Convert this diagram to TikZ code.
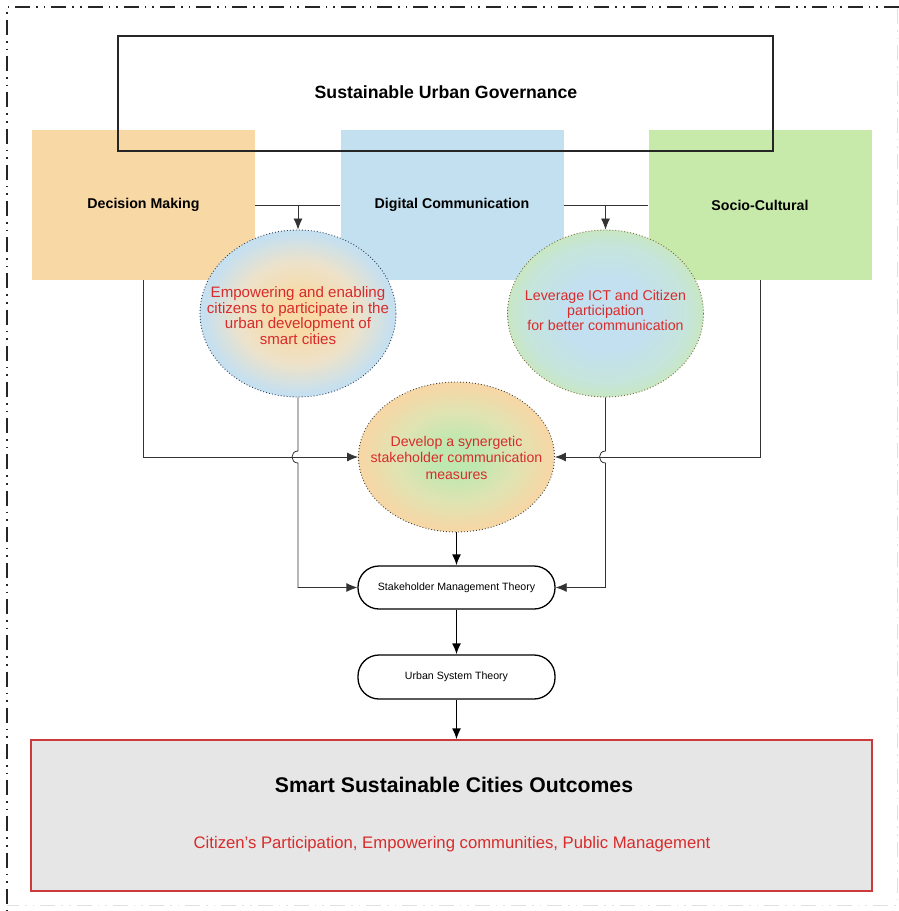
\documentclass[tikz,border=0pt]{standalone}
\usepackage{fontspec}
\setmainfont{Liberation Sans}
\usetikzlibrary{arrows.meta,shapes.geometric,calc}
\definecolor{orng}{HTML}{F8D8A5}
\definecolor{blu}{HTML}{C3E0F0}
\definecolor{grn}{HTML}{C7E9AA}
\definecolor{redtxt}{HTML}{D92B2B}
\definecolor{outgray}{HTML}{E6E6E6}
\definecolor{outred}{HTML}{CC3B3B}
\definecolor{dotnavy}{HTML}{2E3F5C}
\definecolor{dotbrown}{HTML}{7A6A3A}
\definecolor{eAin}{HTML}{F7DAA6}
\definecolor{eAmid}{HTML}{EDE2CA}
\definecolor{eAout}{HTML}{C6E0EF}
\definecolor{eBin}{HTML}{C2E0F0}
\definecolor{eBmid}{HTML}{C6E5DA}
\definecolor{eBout}{HTML}{C8E9AC}
\definecolor{eCin}{HTML}{BFE8B0}
\definecolor{eCmid}{HTML}{E0E3B2}
\definecolor{eCout}{HTML}{F6D7A6}
\pgfdeclareradialshading{shA}{\pgfpoint{0bp}{0bp}}{color(0bp)=(eAin); color(5.6bp)=(eAin); color(15.4bp)=(eAmid); color(24bp)=(eAout); color(50bp)=(eAout)}
\pgfdeclareradialshading{shB}{\pgfpoint{0bp}{0bp}}{color(0bp)=(eBin); color(11bp)=(eBin); color(21bp)=(eBmid); color(29bp)=(eBout); color(50bp)=(eBout)}
\pgfdeclareradialshading{shC}{\pgfpoint{0bp}{0bp}}{color(0bp)=(eCin); color(5.6bp)=(eCin); color(15.4bp)=(eCmid); color(24bp)=(eCout); color(50bp)=(eCout)}
\tikzset{
  catbox/.style={rectangle, minimum width=223pt, minimum height=150pt, inner sep=0pt, draw=none,
    font=\fontsize{14.2}{17}\selectfont\bfseries},
  bubble/.style={ellipse, minimum width=196pt, minimum height=167pt, inner sep=0pt,
    line width=0.9pt, dash pattern=on 0.9pt off 2.1pt},
  btext/.style={align=center, text=redtxt, inner sep=0pt},
  pill/.style={rectangle, rounded corners=21pt, draw, line width=1.3pt, minimum width=197pt,
    minimum height=43pt, inner sep=0pt, font=\fontsize{10.6}{12}\selectfont},
  conn/.style={line width=0.8pt, draw=black!80},
  arr/.style={conn, -{Latex[length=11pt,width=9pt]}},
  bigarr/.style={line width=1.5pt, draw=black, -{Latex[length=11pt,width=9pt]}},
  frame/.style={line width=1.4pt, dash pattern=on 15pt off 6pt on 1.6pt off 6pt on 1.6pt off 6pt}
}
\begin{document}
\begin{tikzpicture}[x=1pt,y=-1pt]
\useasboundingbox (0,0) rectangle (899,911);
% outer frame
\coordinate (fTL) at (7,7);
\coordinate (fTR) at (899,7);
\coordinate (fBL) at (7,911);
\draw[frame, draw=black!85] (fTR) -- (fTL) -- (fBL);
\coordinate (fR1) at (897,9);
\coordinate (fR2) at (897,905);
\draw[frame, draw=black!12, line width=1pt] (fR1) -- (fR2) -- (fBL |- fR2);

% category boxes
\node[catbox, fill=orng] (dm) at (143.5,205) {Decision Making};
\node[catbox, fill=blu] (dc) at (452,205) {Digital Communication};
\node[catbox, fill=grn] (sc) at (760,205) {Socio-Cultural};

% top box
\node[draw=black!85, line width=1.5pt, minimum width=655pt, minimum height=115pt, inner sep=0pt] (sug) at (445.5,93.5) {};
\node[font=\fontsize{17.7}{20}\selectfont\bfseries] (sugt) at (446,92) {Sustainable Urban Governance};

% bubbles
\node[bubble, shading=shA, draw=dotnavy] (e1) at (298,313.5) {};
\node[btext, font=\fontsize{15.1}{15.7}\selectfont] (e1t) at (298,315.5)
  {Empowering and enabling\\citizens to participate in the\\urban development of\\smart cities};
\node[bubble, shading=shB, draw=dotbrown] (e2) at (605.5,313.5) {};
\node[btext, font=\fontsize{14.2}{15}\selectfont] (e2t) at (605.5,310)
  {Leverage ICT and Citizen\\participation\\for better communication};
\node[bubble, shading=shC, draw=black!75, minimum height=150pt] (e3) at (456.5,457) {};
\node[btext, font=\fontsize{14.1}{16.5}\selectfont] (e3t) at (456.5,457.5)
  {Develop a synergetic\\stakeholder communication\\measures};

% pills
\node[pill] (smt) at (456.5,587.5) {Stakeholder Management Theory};
\node[pill, minimum height=44pt] (ust) at (456.5,677) {Urban System Theory};

% outcomes
\node[rectangle, fill=outgray, draw=outred, line width=1.3pt, minimum width=841pt, minimum height=151pt,
  inner sep=0pt] (out) at (451.5,815.5) {};
\node[font=\fontsize{21.2}{24}\selectfont\bfseries] (outt) at (454,785) {Smart Sustainable Cities Outcomes};
\node[font=\fontsize{16.7}{20}\selectfont, text=redtxt] (outs) at (452,844)
  {Citizen's Participation, Empowering communities, Public Management};

% connectors top
\draw[conn] (dm.east) -- (dc.west);
\draw[arr] (e1.north |- dm.east) -- (e1.north);
\draw[conn] (dc.east) -- (sc.west);
\draw[arr] (e2.north |- dc.east) -- (e2.north);

% side feeds into e3
\draw[arr] (dm.south) |- (e3.west);
\draw[arr] (sc.south) |- (e3.east);

% bubble 1 and 2 down to SMT with hops
\coordinate (h1a) at ($(e1.south |- e3.west)+(0,-6)$);
\coordinate (h1b) at ($(e1.south |- e3.west)+(0,6)$);
\draw[arr] (e1.south) -- (h1a) .. controls ($(h1a)+(-8,0)$) and ($(h1b)+(-8,0)$) .. (h1b) |- (smt.west);
\coordinate (h2a) at ($(e2.south |- e3.east)+(0,-6)$);
\coordinate (h2b) at ($(e2.south |- e3.east)+(0,6)$);
\draw[arr] (e2.south) -- (h2a) .. controls ($(h2a)+(-8,0)$) and ($(h2b)+(-8,0)$) .. (h2b) |- (smt.east);

% main chain
\draw[bigarr] (e3.south) -- (smt.north);
\draw[bigarr] (smt.south) -- (ust.north);
\draw[bigarr] (ust.south) -- (ust.south |- out.north);
\end{tikzpicture}
\end{document}
